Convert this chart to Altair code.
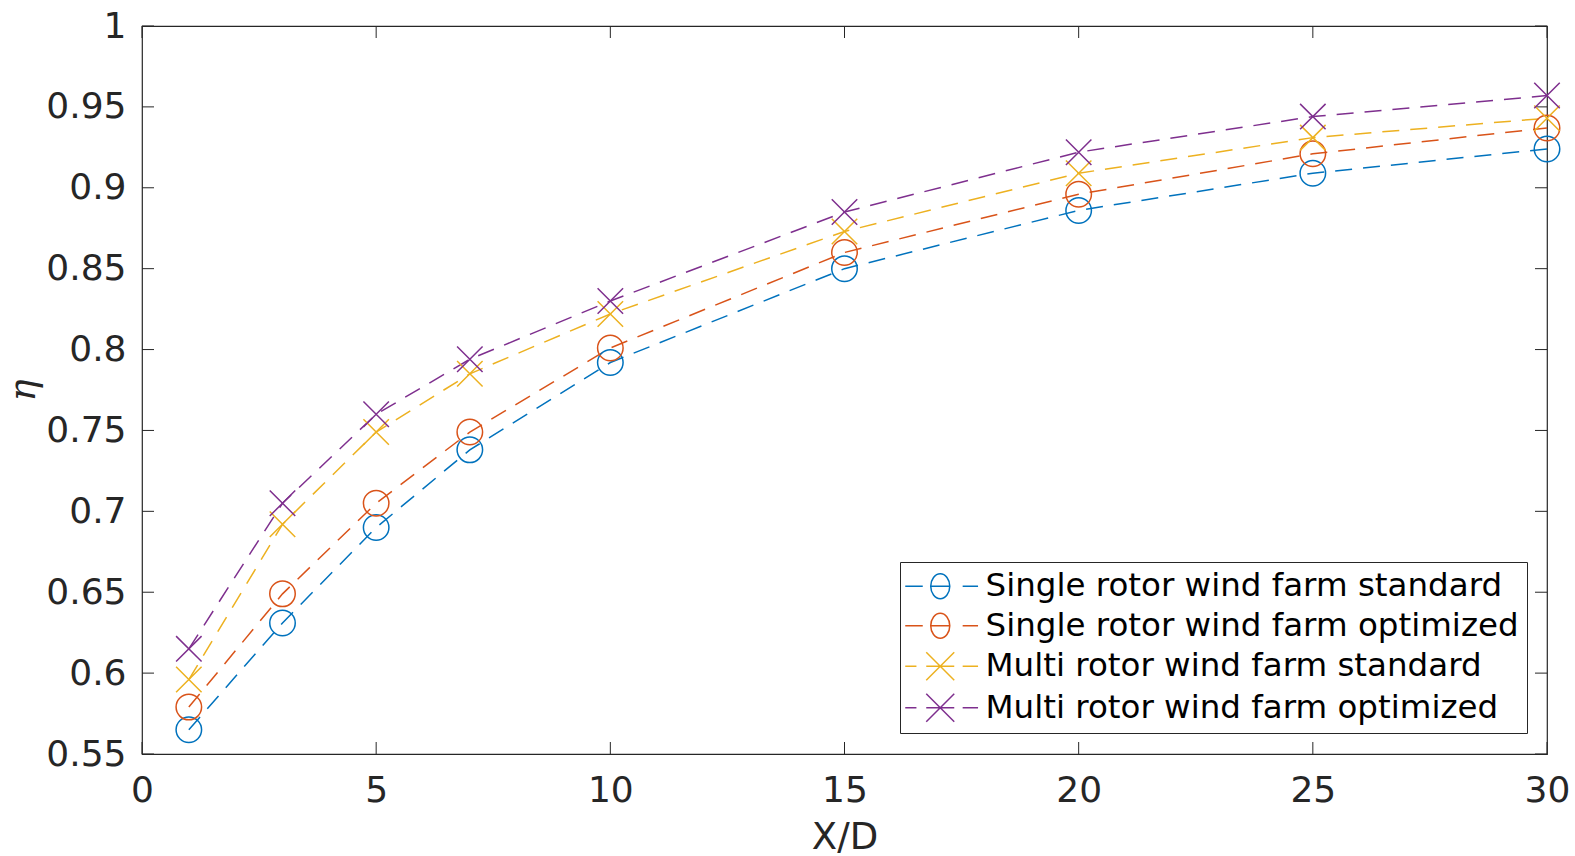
import altair as alt
import pandas as pd

# ---- data ----
x_dd = [1, 3, 5, 7, 10, 15, 20, 25, 30]
series_names = [
    "Single rotor wind farm standard",
    "Single rotor wind farm optimized",
    "Multi rotor wind farm standard",
    "Multi rotor wind farm optimized",
]
single_standard = [0.565, 0.631, 0.690, 0.738, 0.792, 0.850, 0.886, 0.909, 0.924]
single_optimized = [0.579, 0.649, 0.705, 0.749, 0.801, 0.860, 0.896, 0.921, 0.937]
multi_standard = [0.596, 0.692, 0.749, 0.785, 0.822, 0.873, 0.909, 0.931, 0.943]
multi_optimized = [0.615, 0.705, 0.760, 0.794, 0.830, 0.885, 0.922, 0.944, 0.957]
x_ticks = [0, 5, 10, 15, 20, 25, 30]
y_ticks = [0.55, 0.6, 0.65, 0.7, 0.75, 0.8, 0.85, 0.9, 0.95, 1.0]

colors = ["#0072BD", "#D95319", "#EDB120", "#7E2F8E"]

rows = []
for name, vals in zip(series_names, [single_standard, single_optimized, multi_standard, multi_optimized]):
    for xv, yv in zip(x_dd, vals):
        rows.append({"series": name, "x": xv, "y": yv})
df = pd.DataFrame(rows)

W, H = 1405, 728
TXT = "#262626"
FONT = "DejaVu Sans"
TICK = 12

xscale = alt.Scale(domain=[0, 30], nice=False, zero=False)
yscale = alt.Scale(domain=[0.55, 1.0], nice=False, zero=False)
cscale = alt.Scale(domain=series_names, range=colors)

xaxis = alt.Axis(values=x_ticks, format="d", title="X/D", labelFlush=False,
                 titleY=94, titleBaseline="alphabetic", labelPadding=19)
yaxis = alt.Axis(values=y_ticks, format="~g", title="η", labelFlush=False,
                 titleX=-119, titleBaseline="middle", titleAngle=270,
                 titleFont="DejaVu Serif", titleFontStyle="italic",
                 titleFontWeight="normal", labelPadding=16)

X_PATH = "M-1,-1L1,1M-1,1L1,-1"
mark_shapes = ["circle", "circle", X_PATH, X_PATH]
LEG_CIRC = ("M-2.5,0L-1.25,0M1.6,0L2.7,0M-0.68,0L0.68,0"
            "M0.68,0A0.68,0.89 0 1,1 -0.68,0A0.68,0.89 0 1,1 0.68,0")
LEG_X = "M-2.5,0L-1.7,0M1.6,0L2.7,0M-1,0L1,0M-1,-1L1,1M-1,1L1,-1"
legend_shapes = [LEG_CIRC, LEG_CIRC, LEG_X, LEG_X]

base = alt.Chart(df)

lines = base.mark_line(strokeDash=[17, 11], strokeWidth=1.5).encode(
    x=alt.X("x:Q", scale=xscale, axis=xaxis),
    y=alt.Y("y:Q", scale=yscale, axis=yaxis),
    color=alt.Color("series:N", scale=cscale, legend=None),
    detail="series:N",
)

points = base.mark_point(filled=False, size=650, strokeWidth=1.5, opacity=1).encode(
    x=alt.X("x:Q", scale=xscale, axis=xaxis),
    y=alt.Y("y:Q", scale=yscale, axis=yaxis),
    color=alt.Color("series:N", scale=cscale, legend=None),
    shape=alt.Shape("series:N", scale=alt.Scale(domain=series_names, range=mark_shapes), legend=None),
)

leg = alt.Legend(
    title=None, orient="none", legendX=758, legendY=536, direction="vertical",
    labelFont=FONT, labelFontSize=32.5, labelColor="#000000", labelLimit=2000,
    symbolSize=784, symbolOffset=16, labelOffset=29, padding=8, rowPadding=6.5,
    symbolStrokeWidth=1.5, symbolFillColor="transparent", symbolOpacity=1,
    strokeColor=TXT, fillColor="#ffffff",
)
legend_layer = base.mark_point(filled=False, opacity=0).encode(
    x=alt.X("x:Q", scale=xscale, axis=xaxis),
    y=alt.Y("y:Q", scale=yscale, axis=yaxis),
    color=alt.Color("series:N", scale=cscale, legend=leg),
    shape=alt.Shape("series:N", scale=alt.Scale(domain=series_names, range=legend_shapes), legend=leg),
)

xt = alt.Chart(pd.DataFrame({"x": x_ticks}))
yt = alt.Chart(pd.DataFrame({"y": y_ticks}))
tick_b = xt.mark_rule(color=TXT, strokeWidth=1).encode(
    x=alt.X("x:Q", scale=xscale, axis=xaxis), y=alt.value(H - TICK), y2=alt.value(H))
tick_t = xt.mark_rule(color=TXT, strokeWidth=1).encode(
    x=alt.X("x:Q", scale=xscale, axis=xaxis), y=alt.value(0), y2=alt.value(TICK))
tick_l = yt.mark_rule(color=TXT, strokeWidth=1).encode(
    y=alt.Y("y:Q", scale=yscale, axis=yaxis), x=alt.value(0), x2=alt.value(TICK))
tick_r = yt.mark_rule(color=TXT, strokeWidth=1).encode(
    y=alt.Y("y:Q", scale=yscale, axis=yaxis), x=alt.value(W - TICK), x2=alt.value(W))

chart = alt.layer(lines, tick_b, tick_t, tick_l, tick_r, points, legend_layer).resolve_scale(
    color="independent", shape="independent"
).properties(
    width=W, height=H,
    autosize=alt.AutoSizeParams(type="none"),
    padding={"left": 142, "top": 26, "right": 28, "bottom": 102},
    background="#ffffff",
).configure_view(
    stroke=TXT, strokeWidth=1.2
).configure_axis(
    domain=False, ticks=False, tickSize=0, grid=False,
    labelFont=FONT, labelFontSize=36, labelColor=TXT,
    titleFont=FONT, titleFontSize=37, titleColor=TXT, titleFontWeight="normal",
)

chart.save("out.html", embed_options={"renderer": "svg", "actions": False})
